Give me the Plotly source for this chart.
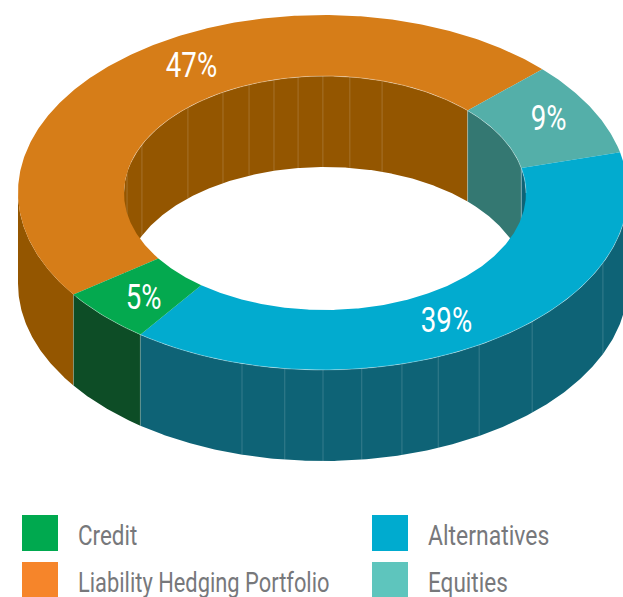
import numpy as np
import plotly.graph_objects as go

# Data
categories = ["Liability Hedging Portfolio", "Equities", "Alternatives", "Credit"]
values = [47, 9, 39, 5]
top_colors = ["#D67D18", "#54AFA9", "#02ABCF", "#04A94F"]
wall_colors = ["#945600", "#347872", "#0E6376", "#0D4D26"]
legend_colors = {"Credit": "#00A94F", "Alternatives": "#00ABCF",
                 "Liability Hedging Portfolio": "#F6852A", "Equities": "#5EC5BD"}
legend_order = ["Credit", "Liability Hedging Portfolio", "Alternatives", "Equities"]
label_xy = [(191, 65), (548, 118), (446, 320), (143, 297)]

# Vertical seams on the ring walls, in degrees clockwise from 12 o'clock
outer_seams = [195.4, 187.2, 180, 172.7, 165, 157.8, 149.2, 136.7, 113.4]
inner_seams = [-80, -65.6, -43, -30.5, -22.2, -14.7, -7.7, -0.6, 7.1, 16.5]

# Projection of the ring
OUT = dict(cx=323, cy=192.5, rx=305, ry=177.5)
INN = dict(cx=325, cy=193, rx=201, ry=117)
DEPTH = 91
START = -124.0
# The artwork's slice edges sit slightly off the centre on the outer rim (degrees)
rim_skew = [-1.1, 0.8, -0.7, -1.2, -1.1]
FONT = "Roboto, Arial, sans-serif"


def arc(e, a0, a1, dy=0, n=None):
    n = n or max(2, int(abs(a1 - a0) * 2) + 2)
    t = np.radians(np.linspace(a0, a1, n))
    return e["cx"] + e["rx"] * np.sin(t), e["cy"] - e["ry"] * np.cos(t) + dy


def clip_ranges(a0, a1, lo, hi):
    out = []
    for k in (-360, 0, 360):
        s, e = max(a0, lo + k), min(a1, hi + k)
        if e > s:
            out.append((s, e))
    return out


def poly(xs, ys, color):
    return go.Scatter(x=xs, y=ys, mode="lines", fill="toself", fillcolor=color,
                      line=dict(width=0, color=color), hoverinfo="skip", showlegend=False)


def seam_trace(e, angles, alpha=0.17):
    xs, ys = [], []
    for a in angles:
        x, y = arc(e, a, a, n=1)
        xs += [x[0], x[0], None]
        ys += [y[0], y[0] + DEPTH, None]
    return go.Scatter(x=xs, y=ys, mode="lines", line=dict(color=f"rgba(255,255,255,{alpha})", width=1),
                      hoverinfo="skip", showlegend=False)


edges = START + np.cumsum([0] + values) * 3.6
rim_edges = edges + np.array(rim_skew)
fig = go.Figure()

# inner (back) walls
for i in range(len(values)):
    for s, e in clip_ranges(edges[i], edges[i + 1], -90, 90):
        x1, y1 = arc(INN, s, e)
        x2, y2 = arc(INN, e, s, DEPTH)
        fig.add_trace(poly(np.r_[x1, x2], np.r_[y1, y2], wall_colors[i]))
fig.add_trace(seam_trace(INN, inner_seams))
fig.add_trace(seam_trace(INN, [edges[1], edges[2]], 0.3))

# outer (front) walls
for i in range(len(values)):
    for s, e in clip_ranges(rim_edges[i], rim_edges[i + 1], 90, 270):
        x1, y1 = arc(OUT, s, e)
        x2, y2 = arc(OUT, e, s, DEPTH)
        fig.add_trace(poly(np.r_[x1, x2], np.r_[y1, y2], wall_colors[i]))
fig.add_trace(seam_trace(OUT, outer_seams))
fig.add_trace(seam_trace(OUT, [rim_edges[3], rim_edges[0]], 0.2))

# top faces
for i in range(len(values)):
    x1, y1 = arc(OUT, rim_edges[i], rim_edges[i + 1])
    x2, y2 = arc(INN, edges[i + 1], edges[i])
    fig.add_trace(poly(np.r_[x1, x2], np.r_[y1, y2], top_colors[i]))

# light rims where the face meets a wall
for e, a0, a1 in ((INN, -75, 90), (OUT, 90, 234)):
    x, y = arc(e, a0, a1)
    fig.add_trace(go.Scatter(x=x, y=y, mode="lines", line=dict(color="rgba(255,255,255,0.4)", width=0.8),
                             hoverinfo="skip", showlegend=False))

# percent labels
annotations = [dict(x=p[0], y=p[1], text=f"{v}%", showarrow=False, xanchor="center", yanchor="middle",
                    font=dict(family=FONT, size=35, color="white"))
               for v, p in zip(values, label_xy)]

# legend
legend_x = [40, 40, 390, 390]
legend_y = [533, 580, 533, 580]
text_x = [75.5, 75.5, 425.5, 425.5]
for name, lx, ly, tx in zip(legend_order, legend_x, legend_y, text_x):
    fig.add_trace(go.Scatter(x=[lx], y=[ly], mode="markers", name=name, hoverinfo="name", showlegend=False,
                             marker=dict(symbol="square", size=36, color=legend_colors[name], line=dict(width=0))))
    annotations.append(dict(x=tx, y=ly + 3, text=name, showarrow=False, xanchor="left", yanchor="middle",
                            font=dict(family=FONT, size=27, color="#77787B")))

fig.update_layout(
    width=623, height=597, margin=dict(l=0, r=0, t=0, b=0),
    paper_bgcolor="white", plot_bgcolor="white", showlegend=False, annotations=annotations,
    xaxis=dict(range=[0, 623], visible=False, fixedrange=True),
    yaxis=dict(range=[597, 0], visible=False, fixedrange=True),
)

# No condensed face is installed: narrow the real text with SVG textLength.
condense = """
document.body.style.margin='0';document.body.style.overflow='hidden';
(function run(){
  var ts=document.querySelectorAll('.annotation-text');
  if(!ts.length){requestAnimationFrame(run);return;}
  var factors={'Credit':0.83,'Liability Hedging Portfolio':0.81,'Alternatives':0.85,'Equities':0.835};
  ts.forEach(function(t){
    var s=t.textContent, pct=s.indexOf('%')>=0, k=pct?0.79:factors[s], len=t.getComputedTextLength();
    t.setAttribute('lengthAdjust','spacingAndGlyphs');
    t.setAttribute('textLength',len*k);
    if(!pct){t.setAttribute('x',parseFloat(t.getAttribute('x'))-len*(1-k)/2);}
  });
})();
"""
fig.write_html("out.html", config={"displayModeBar": False}, post_script=condense)
